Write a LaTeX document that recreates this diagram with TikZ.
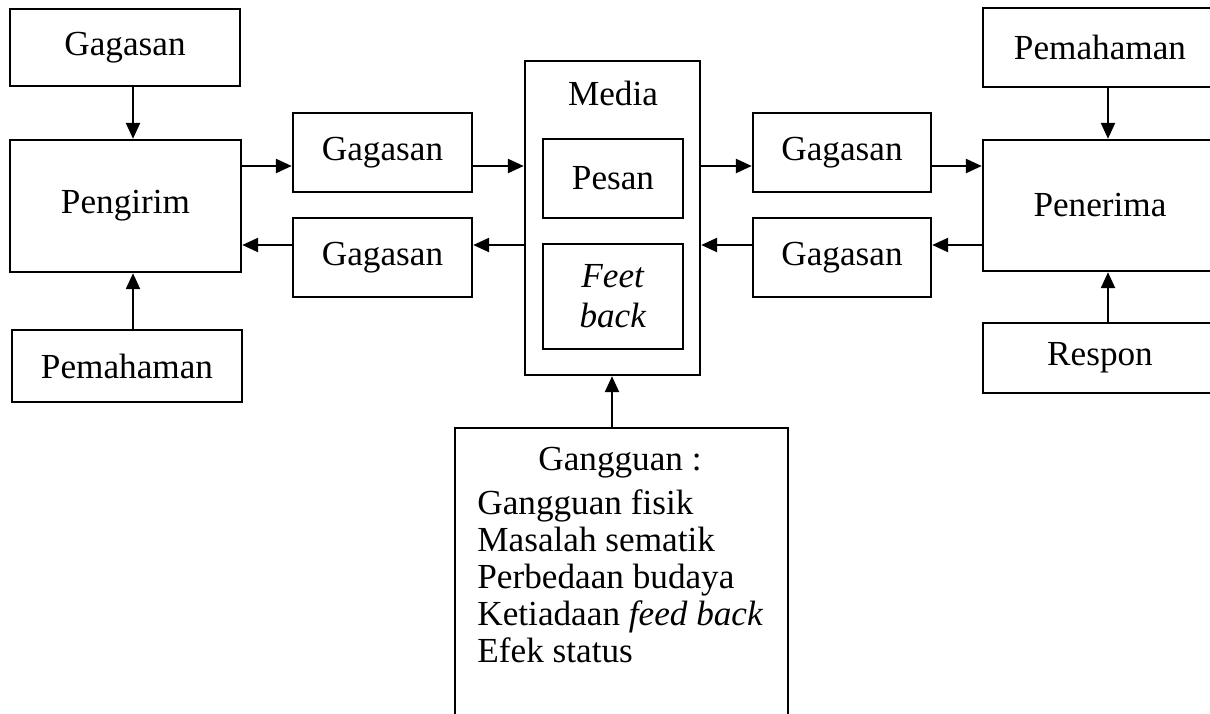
\documentclass[tikz,border=0pt]{standalone}
\usepackage{fontspec}
\setmainfont{Liberation Serif}
\usepackage{tikz}
\usetikzlibrary{arrows.meta}

\begin{document}
\begin{tikzpicture}[x=0.5pt, y=-0.5pt,
		every node/.style={font=\fontsize{17.6}{20}\selectfont},
		box/.style={draw, line width=1.2pt, inner sep=0pt, align=center},
		arr/.style={line width=1.2pt, -{Triangle[length=8pt, width=7pt]}}]
			\useasboundingbox (0,0) rectangle (1210,713);

			% left column
			\node[box, minimum width=115pt, minimum height=38.5pt](gagL) at (125,47.5){Gagasan};
			\node[box, minimum width=115.5pt, minimum height=66pt](pengirim) at (125.5,206){Pengirim};
			\node[box, minimum width=115pt, minimum height=36pt](pemL) at (127,366){Pemahaman};

			% inner columns
			\node[box, minimum width=89.5pt, minimum height=39.5pt](g1) at (382.5,152.5){Gagasan};
			\node[box, minimum width=89.5pt, minimum height=39.5pt](g2) at (382.5,257.5){Gagasan};
			\node[box, minimum width=89pt, minimum height=39.5pt](g3) at (842,152.5){Gagasan};
			\node[box, minimum width=89pt, minimum height=39.5pt](g4) at (842,257.5){Gagasan};

			% media
			\node[box, minimum width=87.5pt, minimum height=157pt](media) at (612.5,218){};
			\node[anchor=base](medialbl) at (613,105){Media};
			\node[box, minimum width=70pt, minimum height=39.5pt](pesan) at (613,178.5){Pesan};
			\node[box, minimum width=70pt, minimum height=52.5pt](feet) at (613,296.5){\textit{Feet}\\\textit{back}};

			% right column
			\node[box, minimum width=117pt, minimum height=39.5pt](pemR) at (1100,47.5){Pemahaman};
			\node[box, minimum width=117pt, minimum height=65.5pt](penerima) at (1100,205.5){Penerima};
			\node[box, minimum width=117pt, minimum height=35pt](respon) at (1100,358){Respon};

			% gangguan
			\node[box, minimum width=166.5pt, minimum height=160pt](gangguan) at (621.5,588){};
			\node[anchor=base](ganglbl) at (620,470){Gangguan :};
			\node[anchor=north west, inner sep=0pt, align=left, font=\fontsize{17.6}{18.6}\selectfont](ganglist) at (477,489){Gangguan fisik\\Masalah sematik\\Perbedaan budaya\\Ketiadaan \textit{feed back}\\Efek status};

			\coordinate(up) at (0,166);
			\coordinate(dn) at (0,245);
			\coordinate(axL) at (133,0);
			\coordinate(axM) at (612,0);
			\coordinate(axR) at (1108,0);

			\draw[arr](gagL.south -| axL)--(pengirim.north -| axL);
			\draw[arr](pemL.north -| axL)--(pengirim.south -| axL);
			\draw[arr](pemR.south -| axR)--(penerima.north -| axR);
			\draw[arr](respon.north -| axR)--(penerima.south -| axR);
			\draw[arr](gangguan.north -| axM)--(media.south -| axM);

			\draw[arr](pengirim.east |- up)--(g1.west |- up);
			\draw[arr](g1.east |- up)--(media.west |- up);
			\draw[arr](media.east |- up)--(g3.west |- up);
			\draw[arr](g3.east |- up)--(penerima.west |- up);
			\draw[arr](penerima.west |- dn)--(g4.east |- dn);
			\draw[arr](g4.west |- dn)--(media.east |- dn);
			\draw[arr](media.west |- dn)--(g2.east |- dn);
			\draw[arr](g2.west |- dn)--(pengirim.east |- dn);
		\end{tikzpicture}
\end{document}
